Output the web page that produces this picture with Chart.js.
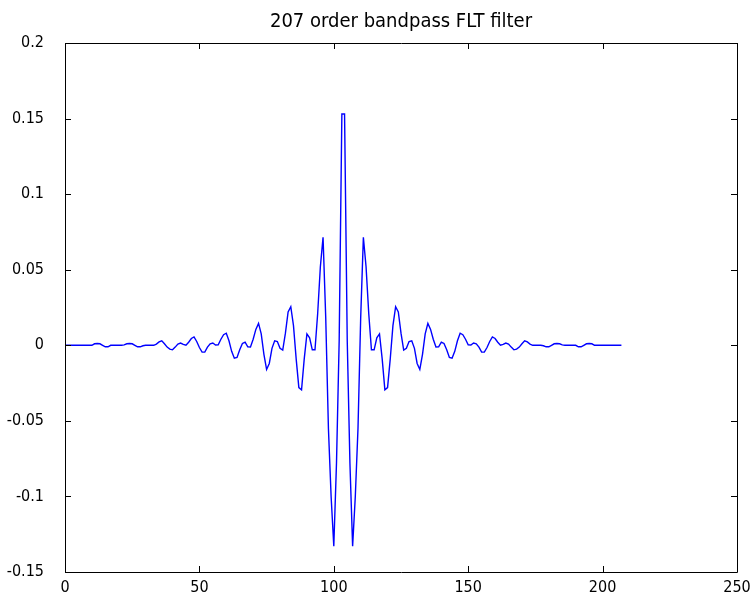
<!DOCTYPE html>
<html>
<head>
<meta charset="utf-8">
<title>207 order bandpass FLT filter</title>
<script src="https://cdn.jsdelivr.net/npm/chart.js@4.4.1/dist/chart.umd.min.js"></script>
<style>
  body { margin: 0; background: #fff; }
  #wrap { width: 751px; height: 598px; }
</style>
</head>
<body>
<div id="wrap"><canvas id="impulse" width="751" height="598"></canvas></div>
<script>
// impulse response taps, index 0..207
const taps = [
  0, 0, 0, 0, 0, 0, 0, 0, 0, 0,
  0, 0.001, 0.0012, 0.001, 0, -0.001, -0.001, 0, 0, 0,
  0, 0, 0.0003, 0.001, 0.0012, 0.001, 0, -0.001, -0.001, -0.0003,
  0, 0, 0, 0, 0.0008, 0.0022, 0.003, 0.001, -0.0012, -0.0025,
  -0.003, -0.0012, 0.0008, 0.0015, 0.0006, 0, 0.002, 0.0045, 0.0055, 0.0025,
  -0.0015, -0.0045, -0.0045, -0.0012, 0.001, 0.0015, 0.0002, 0.0003, 0.004, 0.007,
  0.008, 0.003, -0.004, -0.0085, -0.008, -0.003, 0.0012, 0.002, -0.001, -0.0012,
  0.004, 0.0105, 0.0145, 0.0075, -0.006, -0.016, -0.012, -0.002, 0.003, 0.0025,
  -0.002, -0.0032, 0.008, 0.022, 0.0255, 0.013, -0.009, -0.028, -0.0295, -0.009,
  0.0075, 0.005, -0.003, -0.003, 0.021, 0.052, 0.0715, 0.018, -0.055, -0.1,
  -0.133, -0.078, 0.003, 0.153,
  0.153, 0.003, -0.078, -0.133,
  -0.1, -0.055, 0.018, 0.0715, 0.052, 0.021, -0.003, -0.003, 0.005, 0.0075,
  -0.009, -0.0295, -0.028, -0.009, 0.013, 0.0255, 0.022, 0.008, -0.0032, -0.002,
  0.0025, 0.003, -0.002, -0.012, -0.016, -0.006, 0.0075, 0.0145, 0.0105, 0.004,
  -0.0012, -0.001, 0.002, 0.0012, -0.003, -0.008, -0.0085, -0.004, 0.003, 0.008,
  0.007, 0.004, 0.0003, 0.0002, 0.0015, 0.001, -0.0012, -0.0045, -0.0045, -0.0015,
  0.0025, 0.0055, 0.0045, 0.002, 0, 0.0006, 0.0015, 0.0008, -0.0012, -0.003,
  -0.0025, -0.0012, 0.001, 0.003, 0.0022, 0.0008, 0, 0, 0, 0,
  -0.0003, -0.001, -0.001, 0, 0.001, 0.0012, 0.001, 0.0003, 0, 0,
  0, 0, 0, -0.001, -0.001, 0, 0.001, 0.0012, 0.001, 0,
  0, 0, 0, 0, 0, 0, 0, 0, 0, 0
];
const xTicks = [0, 50, 100, 150, 200, 250];
const yTicks = [-0.15, -0.1, -0.05, 0, 0.05, 0.1, 0.15, 0.2];
const titleText = '207 order bandpass FLT filter';

const FONT = "'DejaVu Sans Condensed', 'Liberation Sans', Arial, sans-serif";

// black box round the axes with short inward ticks on all four sides,
// title centred over the axes box
const boxTicks = {
  id: 'boxTicks',
  afterDraw(chart) {
    const { ctx, chartArea: a, scales } = chart;
    const len = 6;
    ctx.save();
    ctx.strokeStyle = '#000';
    ctx.lineWidth = 1;
    ctx.beginPath();
    ctx.rect(a.left + 0.5, a.top + 0.5, a.right - a.left, a.bottom - a.top);
    xTicks.forEach(v => {
      const px = Math.round(scales.x.getPixelForValue(v)) + 0.5;
      ctx.moveTo(px, a.bottom); ctx.lineTo(px, a.bottom - len);
      ctx.moveTo(px, a.top); ctx.lineTo(px, a.top + len);
    });
    yTicks.forEach(v => {
      const py = Math.round(scales.y.getPixelForValue(v)) + 0.5;
      ctx.moveTo(a.left, py); ctx.lineTo(a.left + len, py);
      ctx.moveTo(a.right, py); ctx.lineTo(a.right - len, py);
    });
    ctx.stroke();

    ctx.fillStyle = '#000';
    ctx.font = '20px ' + FONT;
    ctx.textAlign = 'center';
    ctx.textBaseline = 'middle';
    ctx.fillText(titleText, (a.left + a.right) / 2, 22);
    ctx.restore();
  }
};

new Chart(document.getElementById('impulse'), {
  type: 'line',
  data: {
    datasets: [{
      data: taps.map((v, i) => ({ x: i, y: v })),
      borderColor: 'rgb(0, 0, 255)',
      borderWidth: 1.4,
      pointRadius: 0,
      tension: 0,
      fill: false
    }]
  },
  options: {
    responsive: false,
    animation: false,
    events: [],
    layout: { padding: { left: 0, right: 14, top: 43, bottom: 0 } },
    plugins: {
      legend: { display: false },
      tooltip: { enabled: false },
      title: { display: false }
    },
    scales: {
      x: {
        type: 'linear',
        min: 0,
        max: 250,
        grid: { display: false, drawTicks: false },
        border: { display: false },
        afterBuildTicks(scale) { scale.ticks = xTicks.map(v => ({ value: v })); },
        afterFit(scale) {
          scale.height = 26;
          // label overhang is already covered by the layout padding
          scale.paddingLeft = 0;
          scale.paddingRight = 0;
        },
        ticks: {
          color: '#000',
          padding: 6,
          maxRotation: 0,
          font: { family: FONT, size: 16 },
          callback: v => String(v)
        }
      },
      y: {
        min: -0.15,
        max: 0.2,
        grid: { display: false, drawTicks: false },
        border: { display: false },
        afterBuildTicks(scale) { scale.ticks = yTicks.map(v => ({ value: v })); },
        afterFit(scale) {
          scale.width = 65;
          scale.paddingTop = 0;
          scale.paddingBottom = 0;
        },
        ticks: {
          color: '#000',
          padding: 21,
          font: { family: FONT, size: 16 },
          callback: v => String(Number(v.toFixed(2)))
        }
      }
    }
  },
  plugins: [boxTicks]
});
</script>
</body>
</html>
